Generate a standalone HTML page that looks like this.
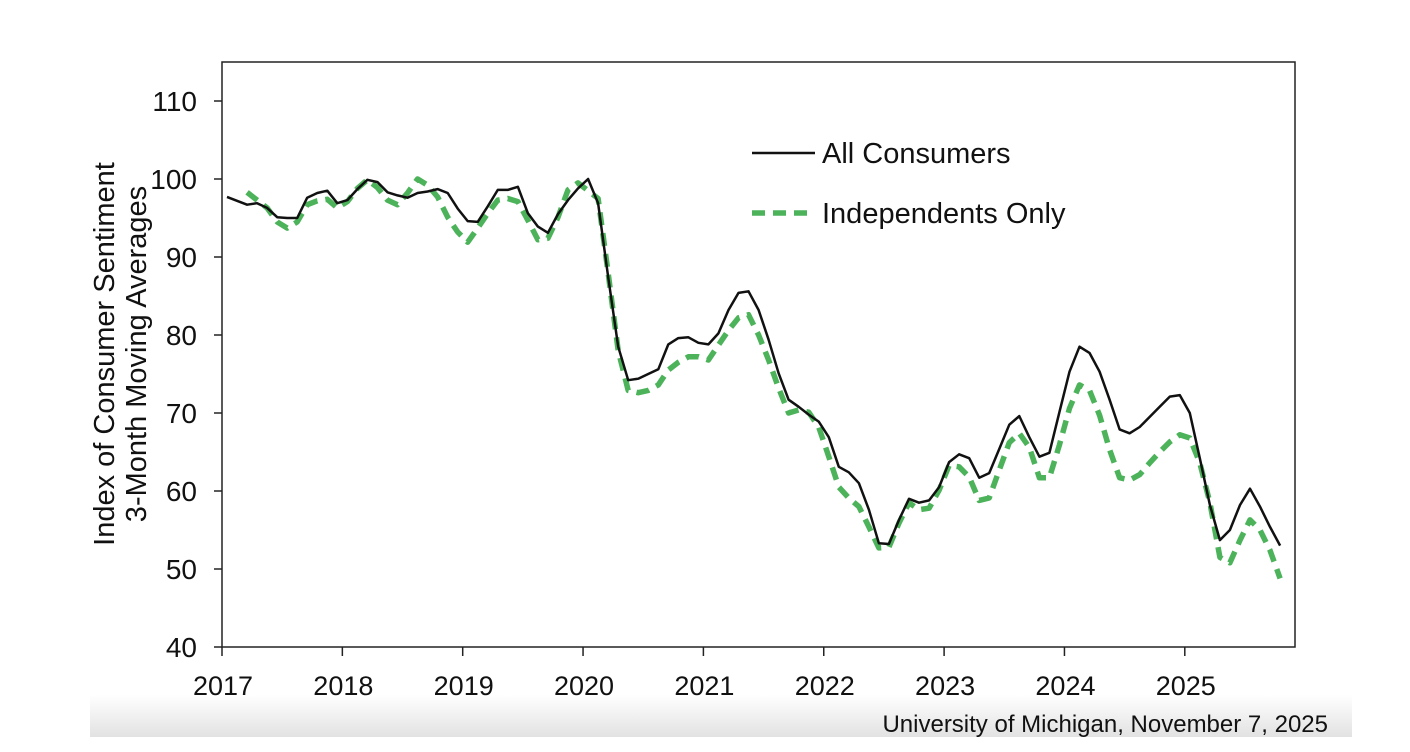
<!DOCTYPE html>
<html><head><meta charset="utf-8"><style>
body{margin:0;background:#fff;}
svg{display:block;font-family:"Liberation Sans",Arial,sans-serif;}
</style></head><body>
<svg width="1410" height="752" viewBox="0 0 1410 752">
<defs><linearGradient id="bg" x1="0" y1="0" x2="0" y2="1"><stop offset="0" stop-color="#ffffff"/><stop offset="1" stop-color="#e2e2e2"/></linearGradient></defs>
<rect x="90" y="695" width="1262" height="42" fill="url(#bg)"/>
<rect x="222" y="62" width="1073" height="585" fill="none" stroke="#222" stroke-width="1.5"/>
<g id="yaxis"></g>
<g id="xaxis"></g>
<text transform="translate(114,354) rotate(-90)" text-anchor="middle" font-size="29" fill="#111">Index of Consumer Sentiment</text>
<text transform="translate(146,354) rotate(-90)" text-anchor="middle" font-size="29" fill="#111">3-Month Moving Averages</text>
<g id="series"></g>
<g>
<line x1="752" y1="153" x2="815" y2="153" stroke="#111" stroke-width="2.5"/>
<text x="822" y="163" font-size="29" fill="#111">All Consumers</text>
<line x1="752" y1="213" x2="815" y2="213" stroke="#4cb35a" stroke-width="5.5" stroke-dasharray="13 8"/>
<text x="822" y="223" font-size="29" fill="#111">Independents Only</text>
</g>
<text x="1328" y="732" text-anchor="end" font-size="24" fill="#111">University of Michigan, November 7, 2025</text>
</svg>
<script>
const yTicks=[40,50,60,70,80,90,100,110];
const xTicks=["2017","2018","2019","2020","2021","2022","2023","2024","2025"];
const allConsumers=[97.7,97.2,96.7,96.9,96.3,95.1,95.0,95.0,97.6,98.2,98.5,96.9,97.3,98.7,99.9,99.6,98.3,97.9,97.6,98.2,98.4,98.7,98.2,96.2,94.6,94.5,96.5,98.6,98.6,99.0,95.6,93.9,93.1,95.5,97.3,98.8,100.0,96.9,87.5,78.5,74.2,74.4,75.0,75.6,78.8,79.6,79.7,79.0,78.8,80.2,83.2,85.4,85.6,83.2,79.4,75.1,71.7,70.8,69.8,68.9,66.9,63.1,62.4,61.0,57.6,53.3,53.2,56.3,59.0,58.5,58.8,60.5,63.7,64.7,64.2,61.7,62.3,65.4,68.5,69.6,66.9,64.4,64.9,70.1,75.3,78.5,77.7,75.3,71.7,67.9,67.4,68.2,69.5,70.8,72.1,72.3,70.0,64.2,58.2,53.7,55.0,58.2,60.3,58.0,55.4,53.0];
const independents=[null,null,98.3,97.3,96.3,94.5,93.7,94.5,96.7,97.2,97.4,96.3,97.1,98.8,99.9,98.9,97.3,96.7,98.2,100.0,99.2,97.7,95.1,93.2,91.9,93.7,95.6,97.3,97.5,97.1,94.7,92.2,92.4,95.1,98.6,99.5,98.5,97.5,88.0,78.0,72.9,72.6,72.9,73.6,75.5,76.5,77.2,77.2,76.8,78.7,80.6,82.2,82.6,80.0,76.8,73.2,70.0,70.4,70.1,68.2,64.4,60.5,59.1,58.0,55.4,52.7,52.8,55.9,58.5,57.6,57.8,60.1,63.3,63.1,61.8,58.8,59.1,62.7,66.2,67.4,65.6,61.7,61.7,65.9,70.6,73.6,72.9,69.7,65.3,61.7,61.4,62.1,63.6,65.0,66.3,67.2,66.8,63.6,58.5,51.5,50.8,53.7,56.3,55.0,52.4,48.8];
const NS="http://www.w3.org/2000/svg";
const X0=222,YW=120.35,Y40=647,PX10=78;
function yScale(v){return Y40-(v-40)/10*PX10;}
function xScale(i){return X0+YW*(i+0.5)/12;}
function mk(tag,attrs,parent){const e=document.createElementNS(NS,tag);for(const k in attrs)e.setAttribute(k,attrs[k]);parent.appendChild(e);return e;}
const ya=document.getElementById('yaxis');
yTicks.forEach(v=>{const y=yScale(v);
 const t=mk('line',{x1:214,x2:222,y1:y,y2:y,stroke:'#222','stroke-width':1.5},ya);
 
 
 const l=mk('text',{x:197,y:y+10,'text-anchor':'end','font-size':28,fill:'#111'},ya);
 l.textContent=v;
 
 
});
const xa=document.getElementById('xaxis');
xTicks.forEach((s,i)=>{const x=X0+YW*i;
 const t=mk('line',{x1:x,x2:x,y1:647,y2:656,stroke:'#222','stroke-width':1.5},xa);
 
 
 const l=mk('text',{x:x+1,y:695,'text-anchor':'middle','font-size':27,fill:'#111'},xa);
 l.textContent=s;
 
 
});
function pathFor(arr){let d='',started=false;arr.forEach((v,i)=>{if(v==null)return;d+=(started?'L':'M')+xScale(i).toFixed(1)+','+yScale(v).toFixed(1);started=true;});return d;}
const sg=document.getElementById('series');
const g=mk('path',{d:pathFor(independents),fill:'none',stroke:'#4cb35a','stroke-width':5.5,'stroke-dasharray':'13 8','stroke-linejoin':'round'},sg);


const b=mk('path',{d:pathFor(allConsumers),fill:'none',stroke:'#111','stroke-width':2.5,'stroke-linejoin':'round'},sg);


</script>
</body></html>
